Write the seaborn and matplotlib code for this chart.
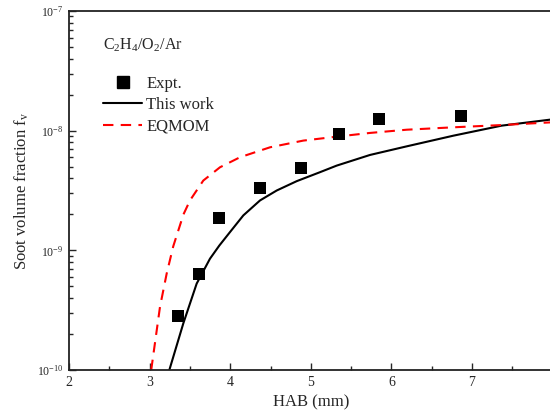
import matplotlib
matplotlib.use("Agg")
import matplotlib.pyplot as plt
import seaborn as sns
import numpy as np
import pandas as pd
from matplotlib.lines import Line2D
from matplotlib.ticker import LogLocator, MultipleLocator, FixedLocator, NullFormatter

# Experimental data
expt_hab = [3.35, 3.61, 3.86, 4.37, 4.88, 5.35, 5.85, 6.86]
expt_fv = [2.8e-10, 6.3e-10, 1.88e-9, 3.3e-9, 4.9e-9, 9.4e-9, 1.24e-8, 1.33e-8]

# This work (model), log10 of fv
work_hab = [3.245, 3.418, 3.584, 3.749, 3.865, 3.998, 4.163, 4.37, 4.577, 4.825, 5.114,
            5.321, 5.734, 6.19, 6.768, 7.368, 7.968]
work_logfv = [-10.0, -9.611, -9.278, -9.07, -8.96, -8.847, -8.708, -8.583, -8.5, -8.422, -8.347,
              -8.292, -8.203, -8.131, -8.042, -7.958, -7.908]

# EQMOM, log10 of fv
eq_hab = [3.02, 3.129, 3.212, 3.294, 3.42, 3.501, 3.666, 3.873, 4.122, 4.494, 4.907,
          5.321, 5.734, 6.19, 6.768, 7.368, 7.968]
eq_logfv = [-10.0, -9.472, -9.194, -8.965, -8.70, -8.583, -8.417, -8.306, -8.222, -8.139,
            -8.083, -8.05, -8.019, -7.992, -7.972, -7.953, -7.931]

sns.set_style("ticks")
plt.rcParams['font.family'] = ['Liberation Serif', 'DejaVu Serif']
plt.rcParams['mathtext.fontset'] = 'custom'
plt.rcParams['mathtext.rm'] = 'Liberation Serif'
plt.rcParams['mathtext.it'] = 'Liberation Serif:italic'

fig = plt.figure(figsize=(5.5, 4.19), dpi=100)
W, H = 550, 419
left, right, top, bottom = 69, 552.6, 11, 370
ax = fig.add_axes([left / W, 1 - bottom / H, (right - left) / W, (bottom - top) / H])

df_work = pd.DataFrame({"HAB": work_hab, "fv": np.power(10.0, work_logfv)})
df_eq = pd.DataFrame({"HAB": eq_hab, "fv": np.power(10.0, eq_logfv)})
df_expt = pd.DataFrame({"HAB": expt_hab, "fv": expt_fv})

sns.lineplot(data=df_work, x="HAB", y="fv", ax=ax, color="black", lw=1.5, sort=False)
sns.lineplot(data=df_eq, x="HAB", y="fv", ax=ax, color="#ff0000", lw=1.5, sort=False,
             linestyle=(0, (5, 3.5)))
sns.scatterplot(data=df_expt, x="HAB", y="fv", ax=ax, marker="s", s=75, color="black",
                edgecolor="black", linewidth=0, zorder=5)

ax.set_yscale("log")
ax.set_xlim(2, 8)
ax.set_ylim(1e-10, 1e-7)

ax.xaxis.set_major_locator(FixedLocator([2, 3, 4, 5, 6, 7]))
ax.xaxis.set_minor_locator(MultipleLocator(0.5))
ax.yaxis.set_minor_locator(LogLocator(base=10, subs=np.arange(2, 10), numticks=20))
ax.yaxis.set_minor_formatter(NullFormatter())
ax.set_yticks([1e-10, 1e-9, 1e-8, 1e-7])
ax.set_yticklabels([r"10$^{-10}$", r"10$^{-9}$", r"10$^{-8}$", r"10$^{-7}$"], fontsize=8.5)
ax.set_xticklabels(["2", "3", "4", "5", "6", "7"], fontsize=10)

ax.tick_params(which="major", direction="in", length=5, width=1, top=False, right=False, pad=4)
ax.tick_params(which="minor", direction="in", length=3, width=1, top=False, right=False)

for s in ["left", "bottom", "top"]:
    ax.spines[s].set_linewidth(1.3)
    ax.spines[s].set_color("#222222")
ax.spines["right"].set_visible(False)

ax.set_xlabel("HAB (mm)", fontsize=12, labelpad=4)
ax.set_ylabel(r"Soot volume fraction f$_\mathregular{v}$", fontsize=12, labelpad=4)

ax.text(103 / W, 1 - 45 / H, r"C$_\mathregular{2}$H$_\mathregular{4}$/O$_\mathregular{2}$/Ar",
        transform=fig.transFigure, fontsize=11.5, va="center", ha="left")

handles = [
    Line2D([], [], marker="s", color="black", linestyle="none", markersize=8.5),
    Line2D([], [], color="black", lw=1.5),
    Line2D([], [], color="#ff0000", lw=1.5, linestyle=(0, (5, 3.5))),
]
ax.legend(handles, ["Expt.", "This work", "EQMOM"], loc="upper left",
          bbox_to_anchor=(103 / W, 1 - 76 / H), bbox_transform=fig.transFigure,
          frameon=False, fontsize=12, handlelength=2.35, handletextpad=0.25,
          labelspacing=0.32, borderpad=0, borderaxespad=0)

fig.savefig("out.png", dpi=100)
